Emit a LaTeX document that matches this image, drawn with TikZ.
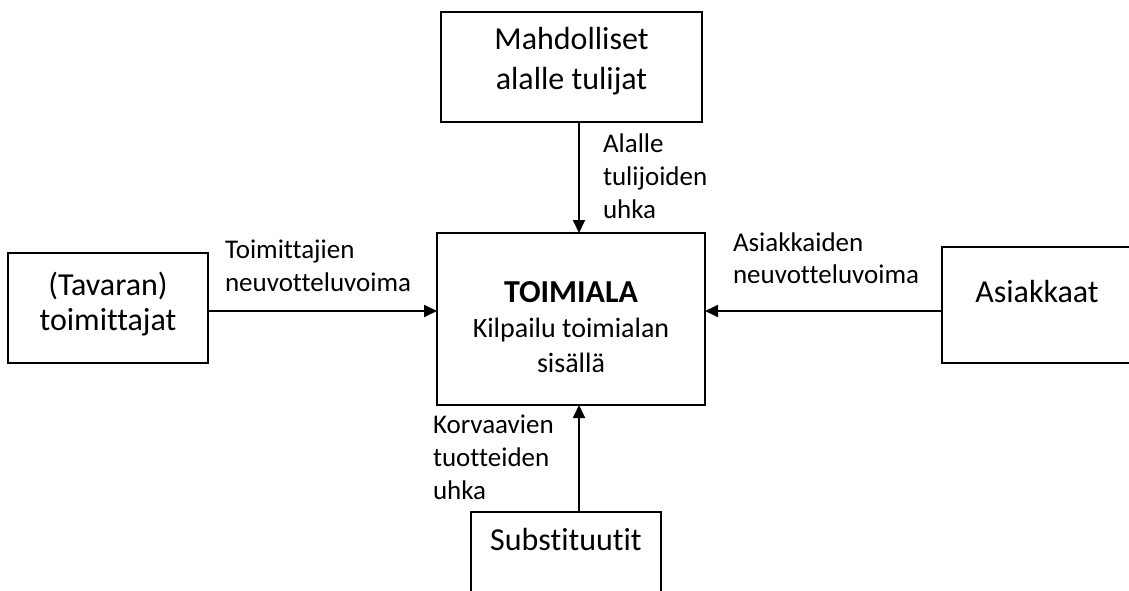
\documentclass[tikz,border=0pt]{standalone}
\usepackage{fontspec}
\setmainfont{Carlito}[Ligatures=NoCommon]
\usetikzlibrary{arrows.meta}
\tikzset{
  boxnode/.style={draw, line width=1.8pt, inner sep=0pt, outer sep=0pt, align=center,
    font=\fontsize{32}{35}\selectfont},
  lbl/.style={inner sep=0pt, outer sep=0pt, anchor=north west, align=left,
    font=\fontsize{27}{33}\selectfont},
  arr/.style={line width=1.8pt, -{Triangle[length=13pt,width=12pt]}}
}
\begin{document}
\begin{tikzpicture}[x=1pt,y=-1pt]
\useasboundingbox (0,0) rectangle (1129,591);
\clip (0,0) rectangle (1129,591);
% boxes
\node[boxnode, minimum width=261pt, minimum height=110pt, font=\fontsize{32}{40}\selectfont] (top) at (571.5,67)
  {\rule{0pt}{26pt}Mahdolliset\\alalle tulijat\rule[-20pt]{0pt}{20pt}};
\node[boxnode, minimum width=268pt, minimum height=172pt, font=\fontsize{28}{35}\selectfont] (center) at (571,319)
  {\rule{0pt}{50pt}{\fontsize{32}{35}\selectfont\bfseries TOIMIALA}\\Kilpailu toimialan\\sisällä\rule[-14pt]{0pt}{14pt}};
\node[boxnode, minimum width=200pt, minimum height=110pt] (left) at (108,308)
  {\rule{0pt}{29pt}(Tavaran)\\toimittajat\rule[-20pt]{0pt}{20pt}};
\node[boxnode, minimum width=190pt, minimum height=116pt] (right) at (1037,305)
  {\rule[-30pt]{0pt}{54pt}Asiakkaat};
\node[boxnode, minimum width=190pt, minimum height=108pt] (bottom) at (566,566)
  {\rule[-56pt]{0pt}{80pt}Substituutit};
% connector positions
\coordinate (ax) at (579,0);
\coordinate (ly) at (0,311);
\draw[arr] (top.south -| ax) -- (center.north -| ax);
\draw[arr] (bottom.north -| ax) -- (center.south -| ax);
\draw[arr] (left.east |- ly) -- (center.west |- ly);
\draw[arr] (right.west |- ly) -- (center.east |- ly);
% labels
\node[lbl] (lab1) at (603,128.9) {\strut Alalle\\tulijoiden\\uhka};
\node[lbl] (lab2) at (225,234.9) {\strut Toimittajien\\neuvotteluvoima};
\node[lbl, font=\fontsize{27}{31.5}\selectfont] (lab3) at (733,229.9) {\strut Asiakkaiden\\neuvotteluvoima};
\node[lbl] (lab4) at (433,409.9) {\strut Korvaavien\\tuotteiden\\uhka};
\end{tikzpicture}
\end{document}
